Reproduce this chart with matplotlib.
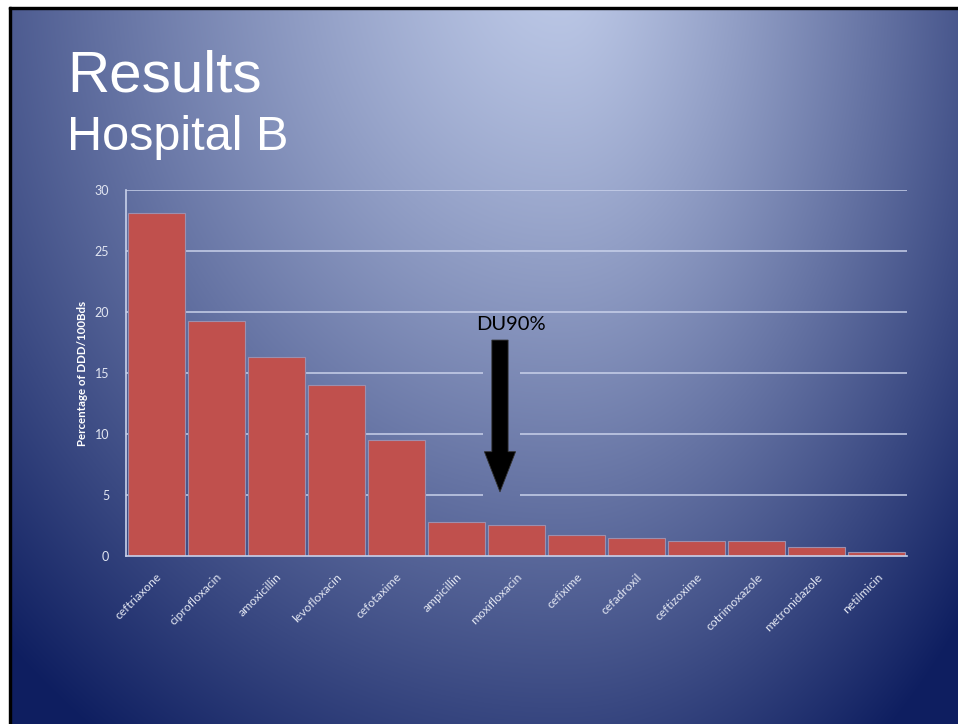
import numpy as np
import matplotlib
matplotlib.use("Agg")
import matplotlib.pyplot as plt
from matplotlib.patches import Rectangle, FancyArrow

# Antibiotic consumption, Hospital B
drugs = ["ceftriaxone", "ciprofloxacin", "amoxicillin", "levofloxacin", "cefotaxime",
         "ampicillin", "moxifloxacin", "cefixime", "cefadroxil", "ceftizoxime",
         "cotrimoxazole", "metronidazole", "netilmicin"]
values = [28.1, 19.3, 16.3, 14.0, 9.5, 2.8, 2.55, 1.75, 1.5, 1.25, 1.2, 0.7, 0.3]
yticks = [0, 5, 10, 15, 20, 25, 30]

W, H = 958, 724
fig = plt.figure(figsize=(W / 100, H / 100), dpi=100)

# slide background: soft radial gradient, bright at top centre, navy at the edges
bg = fig.add_axes([0, 0, 1, 1])
bg.set_xlim(0, W)
bg.set_ylim(H, 0)
bg.axis("off")
yy, xx = np.mgrid[0:H, 0:W]
dx = xx - 560.0
rx = np.where(dx < 0, 800.0, 560.0)
t = np.sqrt((dx / rx) ** 2 + ((yy + 40) / 950.0) ** 2)
t = np.clip(t, 0, 1) ** 1.2
light = np.array([190, 202, 232]) / 255.0
dark = np.array([14, 30, 96]) / 255.0
img = light[None, None, :] * (1 - t[..., None]) + dark[None, None, :] * t[..., None]
bg.imshow(img, extent=(0, W, H, 0), aspect="auto", interpolation="bilinear", zorder=0)
# white margin and thin black frame
bg.add_patch(Rectangle((0, 0), W, 7, color="white", zorder=1))
bg.add_patch(Rectangle((0, 0), 9, H, color="white", zorder=1))
bg.add_patch(Rectangle((9, 7), W, 2, color="black", zorder=2))
bg.add_patch(Rectangle((9, 7), 2, H, color="black", zorder=2))

bg.text(67, 91, "Results", color="white", fontsize=42, family="Liberation Sans",
        va="baseline", ha="left")
bg.text(67, 150, "Hospital B", color="white", fontsize=35, family="Liberation Sans",
        va="baseline", ha="left")

# bar chart
ax = fig.add_axes([126 / W, 1 - 556 / H, (907 - 126) / W, (556 - 190) / H])
ax.patch.set_alpha(0)
x = np.arange(len(drugs))
ax.set_xlim(-0.5, len(drugs) - 0.5)
ax.set_ylim(0, 30)

grid_col = "#c9d1ea"
gap = (5.44, 6.06)
for v in yticks[1:]:
    if v in (5, 10, 15):
        ax.hlines(v, -0.5, gap[0], color=grid_col, lw=1.1, zorder=1)
        ax.hlines(v, gap[1], len(drugs) - 0.5, color=grid_col, lw=1.1, zorder=1)
    else:
        ax.hlines(v, -0.5, len(drugs) - 0.5, color=grid_col, lw=1.1, zorder=1)

ax.bar(x, values, width=0.95, color="#c0504d", edgecolor="#9c8fae", linewidth=0.8, zorder=2)

for s in ["top", "right"]:
    ax.spines[s].set_visible(False)
for s in ["left", "bottom"]:
    ax.spines[s].set_color("#c9d1ea")
    ax.spines[s].set_linewidth(1.2)

tick_col = "#e2e6f2"
ax.set_yticks(yticks)
ax.set_yticklabels([str(v) for v in yticks], color=tick_col, fontsize=9, family="Lato")
ax.tick_params(axis="y", length=0, pad=12)
ax.set_xticks(x)
ax.set_xticklabels(drugs, rotation=45, ha="right", va="top", rotation_mode="anchor",
                   color=tick_col, fontsize=8.7, family="Lato")
ax.tick_params(axis="x", length=0, pad=11)
ax.set_ylabel("Percentage of DDD/100Bds", color="white", fontsize=8.3, fontweight="bold",
              family="Lato", labelpad=5)

# DU90% marker
ax.add_patch(FancyArrow(5.725, 17.7, 0, -12.45, width=0.27, head_width=0.52,
                        head_length=3.3, length_includes_head=True,
                        facecolor="black", edgecolor="#333333", linewidth=0.6, zorder=4))
ax.text(5.9, 19.0, "DU90%", color="black", fontsize=14.5, family="Lato",
        ha="center", va="center", zorder=4)

fig.savefig("out.png", dpi=100)
